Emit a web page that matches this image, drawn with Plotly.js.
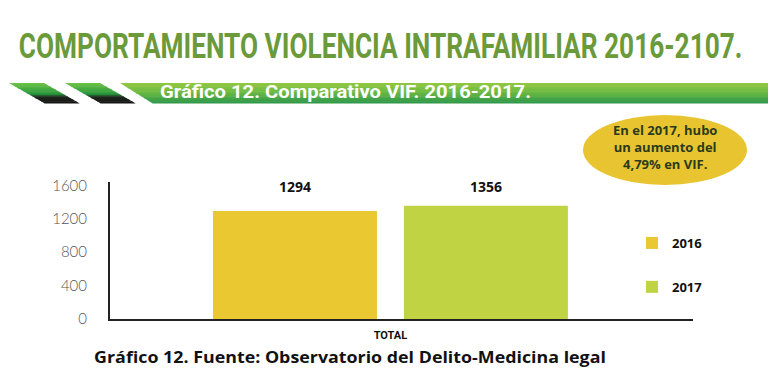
<!DOCTYPE html>
<html>
<head>
<meta charset="utf-8">
<script src="https://cdn.plot.ly/plotly-3.0.1.min.js"></script>
<style>html,body{margin:0;padding:0;background:#fff;}#chart{width:780px;height:376px;}</style>
</head>
<body>
<div id="chart"></div>
<script>
// ---- data ----
const categories = ["TOTAL"];
const years = ["2016", "2017"];
const values2016 = [1294];
const values2017 = [1356];
const yTicks = [0, 400, 800, 1200, 1600];
const mainTitle = "COMPORTAMIENTO VIOLENCIA INTRAFAMILIAR 2016-2107.";
const bannerTitle = "Gráfico 12. Comparativo VIF. 2016-2017.";
const noteText = ["En el 2017, hubo", "un aumento del", "4,79% en VIF."];
const sourceText = "Gráfico 12. Fuente: Observatorio del Delito-Medicina legal";

// ---- layout helpers (pixel -> paper) ----
const W = 780, H = 376, L = 110, R = 87, T = 182, B = 57;
const PW = W - L - R, PH = H - T - B;
const px = x => (x - L) / PW;
const py = y => (H - B - y) / PH;

const narrow = "Roboto, 'Liberation Sans', sans-serif";
const geo = "Lato, 'Open Sans', sans-serif";
const wide = "'Open Sans', Lato, sans-serif";

function lerp(a, b, t) { return Math.round(a + (b - a) * t); }
function mix(c1, c2, t) {
  return `rgb(${lerp(c1[0], c2[0], t)},${lerp(c1[1], c2[1], t)},${lerp(c1[2], c2[2], t)})`;
}
// slanted strip shapes with vertical gradient
function slantedBand(xLeftTop, xRightTop, slope, yTop, yBot, stops, n) {
  const out = [];
  const h = (yBot - yTop) / n;
  for (let i = 0; i < n; i++) {
    const y0 = yTop + i * h, y1 = yTop + (i + 1) * h + 0.4;
    const t = (i + 0.5) / n;
    let col;
    for (let k = 0; k < stops.length - 1; k++) {
      if (t >= stops[k][0] && t <= stops[k + 1][0]) {
        const tt = (t - stops[k][0]) / (stops[k + 1][0] - stops[k][0]);
        col = mix(stops[k][1], stops[k + 1][1], tt);
      }
    }
    const xl0 = xLeftTop + (y0 - yTop) * slope, xl1 = xLeftTop + (y1 - yTop) * slope;
    const rx0 = xRightTop === null ? 768 : xRightTop + (y0 - yTop) * slope;
    const rx1 = xRightTop === null ? 768 : xRightTop + (y1 - yTop) * slope;
    out.push({
      type: "path", xref: "paper", yref: "paper", layer: "below",
      path: `M${px(xl0)},${py(y0)} L${px(rx0)},${py(y0)} L${px(rx1)},${py(y1)} L${px(xl1)},${py(y1)} Z`,
      fillcolor: col, line: { width: 0 }
    });
  }
  return out;
}
const stripeStops = [[0, [110, 196, 70]], [0.55, [40, 150, 60]], [0.7, [30, 40, 30]], [1, [20, 20, 20]]];
const bannerStops = [[0, [146, 200, 64]], [0.5, [104, 184, 66]], [1, [44, 150, 74]]];

const shapes = []
  .concat(slantedBand(9, 44, 1.75, 83, 103, stripeStops, 12))
  .concat(slantedBand(65, 100, 1.75, 83, 103, stripeStops, 12))
  .concat(slantedBand(120, null, 1.6, 83, 103, bannerStops, 12));
shapes.push({
  type: "circle", xref: "paper", yref: "paper", layer: "above",
  x0: px(583), x1: px(747), y0: py(115), y1: py(185),
  fillcolor: "#e8c530", line: { width: 0 }
});

const barColors = ["#eac832", "#c0d443"];
const traces = [
  { type: "bar", name: years[0], x: categories, y: values2016, marker: { color: barColors[0] }, legendgroup: "a", hoverinfo: "skip" },
  { type: "bar", name: years[1], x: categories, y: values2017, marker: { color: barColors[1] }, legendgroup: "b", hoverinfo: "skip" }
];

const annotations = [];
const fits = [];
function addText(text, x, y, xanchor, font, fitWidth) {
  annotations.push({ text: text, xref: "paper", yref: "paper", x: px(x), y: py(y), xanchor: xanchor, yanchor: "middle",
    align: xanchor === "left" ? "left" : "center", showarrow: false, font: font, borderpad: 0 });
  fits.push(fitWidth || 0);
}
addText(mainTitle, 18, 46, "left", { family: narrow, size: 35, color: "#6b9a3b", weight: 700 }, 724);
addText(bannerTitle, 159, 92, "left", { family: narrow, size: 19, color: "#ffffff", weight: 700 }, 371);
addText(noteText.join("<br>"), 665, 147, "center", { family: wide, size: 13, color: "#2b3a1c", weight: 700 }, 0);
addText(sourceText, 93, 357, "left", { family: wide, size: 16, color: "#111111", weight: 700 }, 512);
// value labels at a fixed height above the bars
const barVals = [values2016[0], values2017[0]];
const shifts = [-95, 96];
barVals.forEach((v, i) => {
  annotations.push({ text: String(v), xref: "x", yref: "paper", x: categories[0], xshift: shifts[i], y: py(186), yanchor: "middle",
    showarrow: false, font: { family: wide, size: 14, color: "#111111", weight: 700 } });
  fits.push(0);
});

const layout = {
  width: W, height: H,
  margin: { l: L, r: R, t: T, b: B, pad: 0 },
  paper_bgcolor: "#ffffff", plot_bgcolor: "#ffffff",
  barmode: "group", bargap: 0.345, bargroupgap: 0.141,
  showlegend: true,
  legend: { x: px(632), y: py(228), xanchor: "left", yanchor: "top", traceorder: "grouped", tracegroupgap: 24,
    font: { family: wide, size: 13, color: "#111111", weight: 700 }, bgcolor: "rgba(0,0,0,0)" },
  xaxis: { type: "category", range: [-0.481, 0.519], showline: true, linecolor: "#222", linewidth: 2,
    showgrid: false, zeroline: false, ticks: "", ticklabelstandoff: 5,
    tickfont: { family: narrow, size: 11, color: "#111", weight: 700 } },
  yaxis: { range: [0, 1641], tickvals: yTicks, showline: true, linecolor: "#222", linewidth: 2,
    showgrid: false, zeroline: false, ticks: "", ticklabelstandoff: 18,
    tickfont: { family: geo, size: 15, color: "#555", weight: 300 } },
  shapes: shapes,
  annotations: annotations
};

Plotly.newPlot("chart", traces, layout, { displayModeBar: false, staticPlot: true }).then(gd => {
  // horizontally condense left-anchored header/footer texts (rect + text together) to the reference width
  fits.forEach((w, i) => {
    if (!w) return;
    const ann = gd.querySelector(`.annotation[data-index="${i}"]`);
    if (!ann) return;
    const txt = ann.querySelector("text.annotation-text");
    const inner = ann.querySelector(".annotation-text-g > g");
    if (!txt || !inner) return;
    const natural = txt.getComputedTextLength();
    if (!natural) return;
    const s = w / natural;
    const tr = inner.getAttribute("transform") || "";
    inner.setAttribute("transform", tr + ` scale(${s},1)`);
  });
});
</script>
</body>
</html>
